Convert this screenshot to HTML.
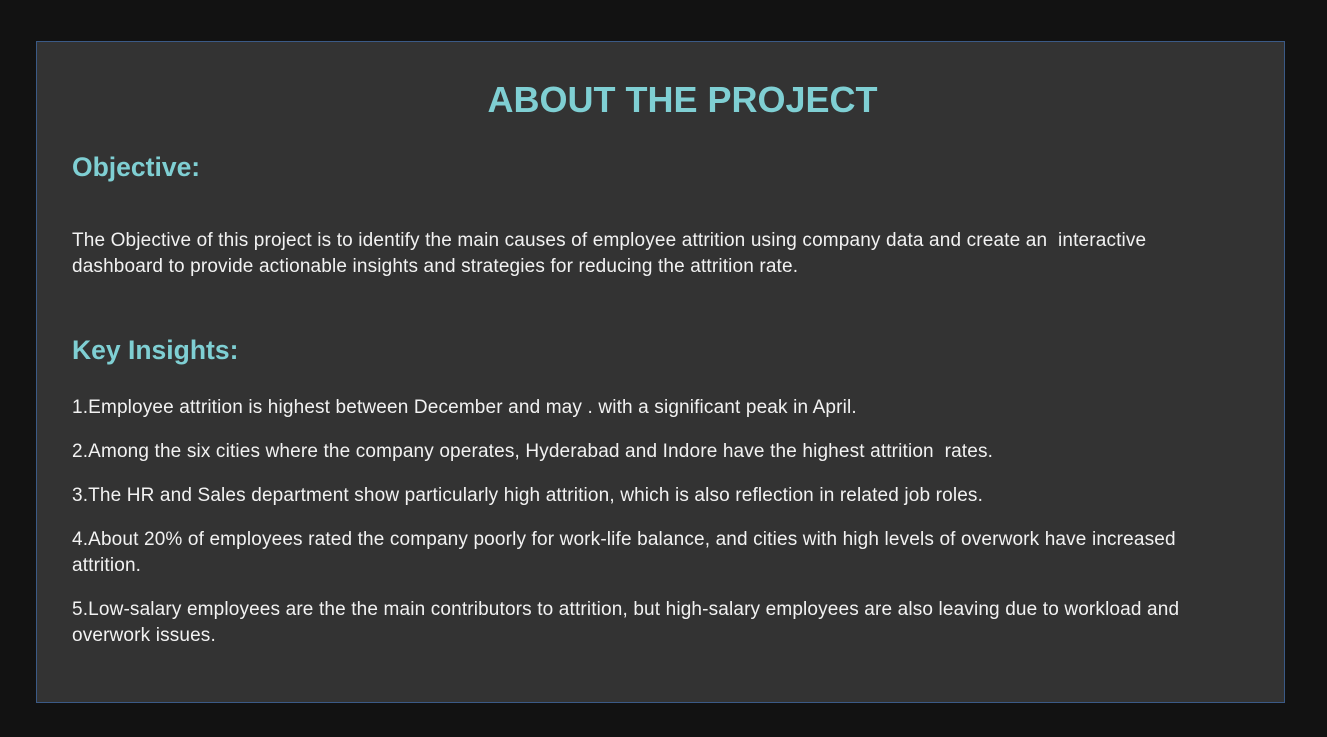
<!DOCTYPE html>
<html><head><meta charset="utf-8"><style>
html,body{margin:0;padding:0;background:#121212;width:1327px;height:737px;overflow:hidden}
.box{position:absolute;left:36px;top:41px;width:1247px;height:660px;background:#333333;border:1px solid #3b5a86}
.t{position:absolute;white-space:nowrap;font-family:"Liberation Sans",sans-serif;color:#f2f2f2;font-size:19px;letter-spacing:0.15px;line-height:26px;left:72px}
.h{color:#7fcfd3;font-weight:bold;letter-spacing:0}
</style></head><body>
<div class="box"></div>
<div class="t h" style="left:0;width:1365px;text-align:center;top:78px;font-size:36px;line-height:44px">ABOUT THE PROJECT</div>
<div class="t h" style="top:152px;font-size:26.5px;line-height:30px">Objective:</div>
<div class="t" style="top:228px">The Objective of this project is to identify the main causes of employee attrition using company data and create an&nbsp; interactive</div>
<div class="t" style="top:254px">dashboard to provide actionable insights and strategies for reducing the attrition rate.</div>
<div class="t h" style="top:335px;font-size:26.5px;line-height:30px">Key Insights:</div>
<div class="t" style="top:395px">1.Employee attrition is highest between December and may . with a significant peak in April.</div>
<div class="t" style="top:439px">2.Among the six cities where the company operates, Hyderabad and Indore have the highest attrition&nbsp; rates.</div>
<div class="t" style="top:483px">3.The HR and Sales department show particularly high attrition, which is also reflection in related job roles.</div>
<div class="t" style="top:527px">4.About 20% of employees rated the company poorly for work-life balance, and cities with high levels of overwork have increased</div>
<div class="t" style="top:553px">attrition.</div>
<div class="t" style="top:597px">5.Low-salary employees are the the main contributors to attrition, but high-salary employees are also leaving due to workload and</div>
<div class="t" style="top:623px">overwork issues.</div>
</body></html>
